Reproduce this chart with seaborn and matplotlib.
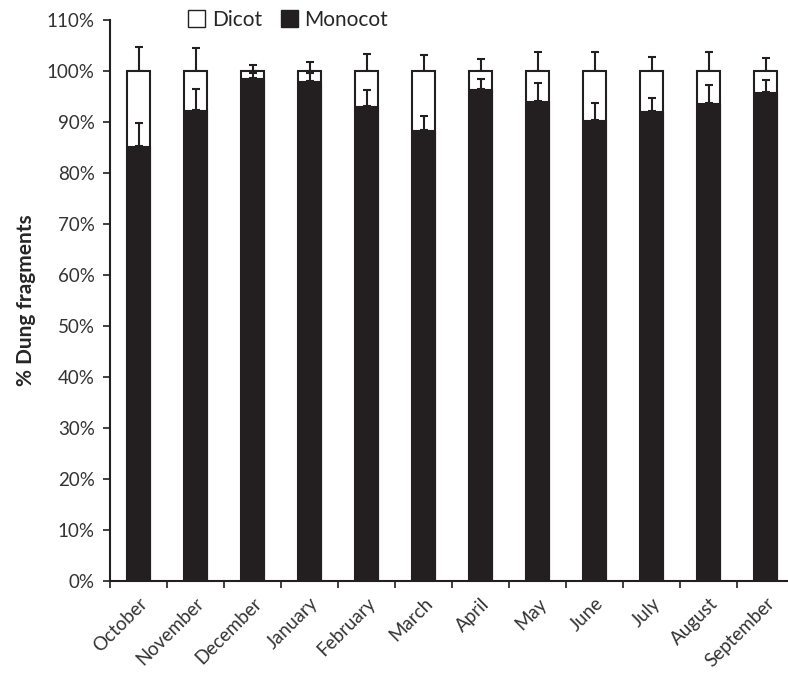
import matplotlib
matplotlib.use("Agg")
import matplotlib.pyplot as plt
import matplotlib.transforms as mtransforms
import seaborn as sns
import numpy as np
import pandas as pd
from matplotlib.patches import Patch
from matplotlib.ticker import FixedLocator, PercentFormatter

months = ["October", "November", "December", "January", "February", "March",
          "April", "May", "June", "July", "August", "September"]
monocot = [85.3, 92.4, 98.6, 98.0, 93.1, 88.4, 96.4, 94.1, 90.3, 92.1, 93.8, 95.9]
monocot_err = [4.5, 4.1, 1.0, 1.6, 3.2, 2.8, 2.0, 3.5, 3.4, 2.6, 3.5, 2.3]
dicot = [100 - m for m in monocot]
dicot_err = [4.7, 4.5, 1.2, 1.8, 3.3, 3.1, 2.3, 3.7, 3.7, 2.8, 3.7, 2.5]

df = pd.DataFrame({"month": months, "monocot": monocot, "dicot": dicot})
df["total"] = df["monocot"] + df["dicot"]

sns.set_theme(style="white")
plt.rcParams["font.family"] = ["Lato", "DejaVu Sans"]

dark = "#231F20"
fig = plt.figure(figsize=(7.88, 6.73), dpi=100)
ax = fig.add_axes([110 / 788, (673 - 581) / 673, 1 - 110 / 788, (581 - 20) / 673])

sns.barplot(data=df, x="month", y="total", color="white", edgecolor=dark,
            linewidth=1.5, width=0.41, ax=ax, zorder=2)
sns.barplot(data=df, x="month", y="monocot", color=dark, edgecolor=dark,
            linewidth=0.8, width=0.41, ax=ax, zorder=3, saturation=1)

xs = np.arange(len(months))
ax.errorbar(xs, df["total"], yerr=[np.zeros(len(xs)), dicot_err], fmt="none",
            ecolor=dark, elinewidth=1.5, capsize=3.2, capthick=1.5, zorder=1)
ax.errorbar(xs, df["monocot"], yerr=[np.zeros(len(xs)), monocot_err], fmt="none",
            ecolor=dark, elinewidth=1.5, capsize=3.2, capthick=1.5, zorder=4)

ax.set_xlim(-0.5, 11.39)
ax.set_ylim(0, 110)
ax.set_yticks(np.arange(0, 111, 10))
ax.yaxis.set_major_formatter(PercentFormatter(decimals=0))
ax.set_xlabel("")
ax.set_ylabel("% Dung fragments", fontsize=15, fontweight="bold", labelpad=8)

ax.set_xticks(xs)
ax.set_xticklabels(months, rotation=45, ha="right", rotation_mode="anchor",
                   fontsize=13.5, color="#333333")
offset = mtransforms.ScaledTranslation(-5 / 100, 0, fig.dpi_scale_trans)
for lab in ax.get_xticklabels():
    lab.set_transform(lab.get_transform() + offset)
ax.xaxis.set_minor_locator(FixedLocator(np.arange(-0.5, 12, 1)))
ax.tick_params(axis="x", which="major", length=0, pad=10)
ax.tick_params(axis="x", which="minor", length=5, width=1.2, color=dark, direction="out", bottom=True)
ax.tick_params(axis="y", length=5, width=1.2, color=dark, direction="out", left=True,
               labelsize=13.5, labelcolor="#333333", pad=6)

for s in ["top", "right"]:
    ax.spines[s].set_visible(False)
for s in ["left", "bottom"]:
    ax.spines[s].set_color(dark)
    ax.spines[s].set_linewidth(1.5)
ax.grid(False)

handles = [Patch(facecolor="white", edgecolor=dark, linewidth=1.0, label="Dicot"),
           Patch(facecolor=dark, edgecolor=dark, label="Monocot")]
fig.legend(handles=handles, loc="center", bbox_to_anchor=(288 / 788, 1 - 20 / 673),
           ncol=2, frameon=False, fontsize=15, handlelength=0.85, handleheight=0.85,
           handletextpad=0.3, columnspacing=0.9, borderpad=0)

fig.savefig("out.png", dpi=100)
